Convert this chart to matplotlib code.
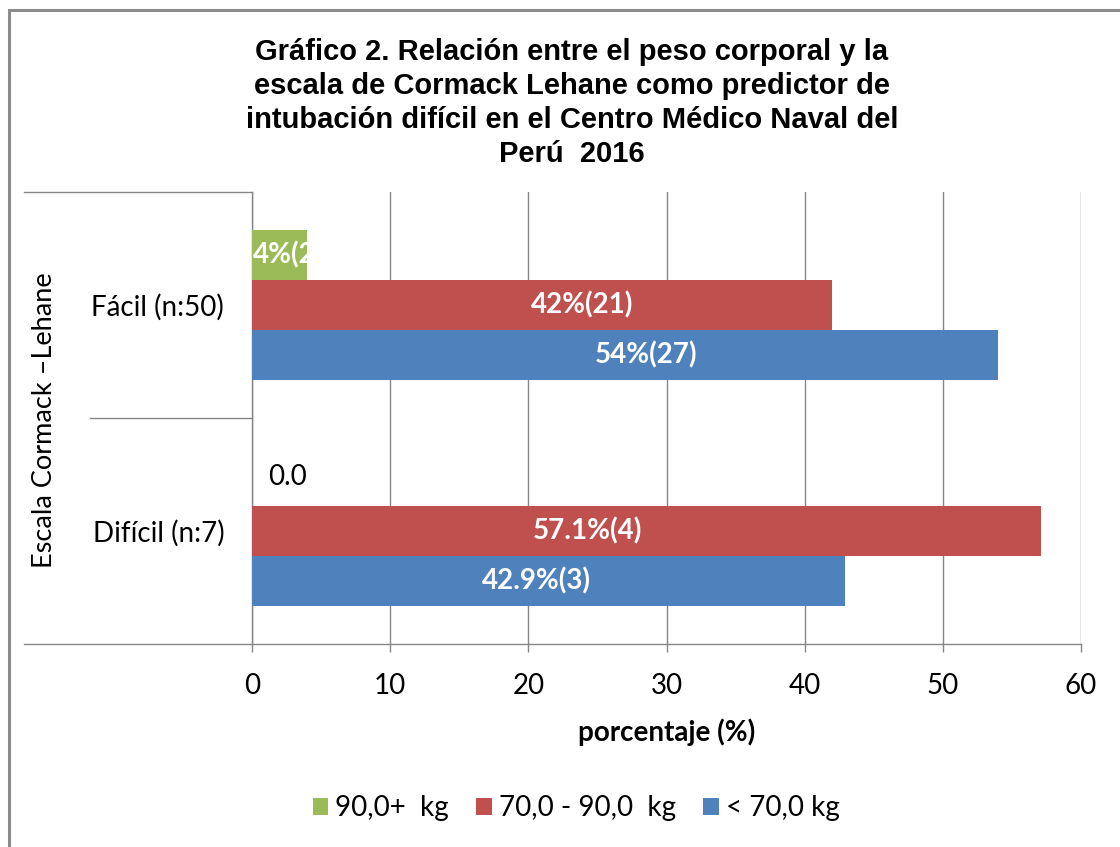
import matplotlib
matplotlib.use("Agg")
import matplotlib.pyplot as plt
import matplotlib.transforms as mtransforms
from matplotlib.patches import Rectangle, Patch
import numpy as np

# ---- data ----
categories = ["Difícil (n:7)", "Fácil (n:50)"]
series_names = ["90,0+  kg", "70,0 - 90,0  kg", "< 70,0 kg"]
values_90plus = [0.0, 4.0]
values_70_90 = [57.1, 42.0]
values_lt70 = [42.9, 54.0]
labels_90plus = ["0.0", "4%(2)"]
labels_70_90 = ["57.1%(4)", "42%(21)"]
labels_lt70 = ["42.9%(3)", "54%(27)"]
x_ticks = [0, 10, 20, 30, 40, 50, 60]

# label anchor positions (x, in axis units) as placed in the original chart
labelpos_90plus = [2.6, 2.6]
labelpos_70_90 = [24.3, 23.9]
labelpos_lt70 = [20.6, 28.5]

colors = ["#9BBB59", "#C0504D", "#4F81BD"]
GRAY = "#868686"
FONT = "Lato"
FS = 20

W, H = 1120, 847
fig = plt.figure(figsize=(W / 100, H / 100), dpi=100)
fig.patch.set_facecolor("white")

ax = fig.add_axes([252 / W, 1 - 644 / H, (1081 - 252) / W, (644 - 192) / H])

ypos = np.array([0.5, 1.5])
bh = 0.22
offsets = [bh, 0.0, -bh]
all_vals = [values_90plus, values_70_90, values_lt70]
all_labels = [labels_90plus, labels_70_90, labels_lt70]
all_lpos = [labelpos_90plus, labelpos_70_90, labelpos_lt70]

for vals, labs, lpos, off, col, name in zip(all_vals, all_labels, all_lpos, offsets, colors, series_names):
    bars = ax.barh(ypos + off, vals, height=bh, color=col, edgecolor="none", label=name, zorder=3)
    for b, v, lab, lx in zip(bars, vals, labs, lpos):
        yc = b.get_y() + b.get_height() / 2
        if v == 0:
            ax.text(lx, yc + 0.02, lab, ha="center", va="center", fontsize=FS, family=FONT,
                    color="black", zorder=5)
        else:
            t = ax.text(lx, yc, lab, ha="center", va="center", fontsize=FS, family=FONT,
                        fontweight="bold", color="white", zorder=5)
            t.set_clip_path(b)

ax.set_xlim(0, 60)
ax.set_ylim(0, 2)
ax.set_xticks(x_ticks)
ax.set_xticklabels([str(t) for t in x_ticks], family=FONT, fontsize=FS)
ax.set_yticks(ypos)
ax.set_yticklabels(categories, family=FONT, fontsize=FS)
ax.tick_params(axis="y", length=0, pad=20)
ax.tick_params(axis="x", length=6, width=1, color=GRAY, pad=15, direction="out")

ax.grid(axis="x", color=GRAY, linewidth=1, zorder=0)
ax.set_axisbelow(True)
for s in ["top", "right"]:
    ax.spines[s].set_visible(False)
for s in ["left", "bottom"]:
    ax.spines[s].set_color(GRAY)
    ax.spines[s].set_linewidth(1)

# category boundary tick lines extending to the left
trans = mtransforms.blended_transform_factory(ax.transAxes, ax.transData)
for yb, x0 in [(2, (24 - 252) / 829), (1, (90 - 252) / 829), (0, (24 - 252) / 829)]:
    ax.plot([x0, 0], [yb, yb], transform=trans, color=GRAY, lw=1, clip_on=False, zorder=1)

ax.set_xlabel("porcentaje (%)", family=FONT, fontsize=FS, fontweight="bold", labelpad=14)
fig.text(45 / W, 1 - 420 / H, "Escala Cormack –Lehane", rotation=90, ha="center", va="center",
         family=FONT, fontsize=19.5)

fig.text(572 / W, 1 - 103 / H,
         "Gráfico 2. Relación entre el peso corporal y la\n"
         "escala de Cormack Lehane como predictor de\n"
         "intubación difícil en el Centro Médico Naval del\n"
         "Perú  2016",
         ha="center", va="center", family="Liberation Sans", fontweight="bold",
         fontsize=21, linespacing=1.27)

handles = [Patch(facecolor=c, edgecolor="none", label=n) for c, n in zip(colors, series_names)]
fig.legend(handles=handles, loc="center", bbox_to_anchor=(576 / W, 1 - 808 / H), ncol=3,
           frameon=False, prop={"family": FONT, "size": FS}, handlelength=0.55, handleheight=0.55,
           handletextpad=0.25, columnspacing=1.0)

# chart border (top and left visible)
fig.add_artist(Rectangle((9 / W, -0.1), 1.2, 1 - 10 / H + 0.1, transform=fig.transFigure,
                         fill=False, edgecolor="#8c8c8c", lw=2.2))

fig.savefig("out.png", dpi=100)
